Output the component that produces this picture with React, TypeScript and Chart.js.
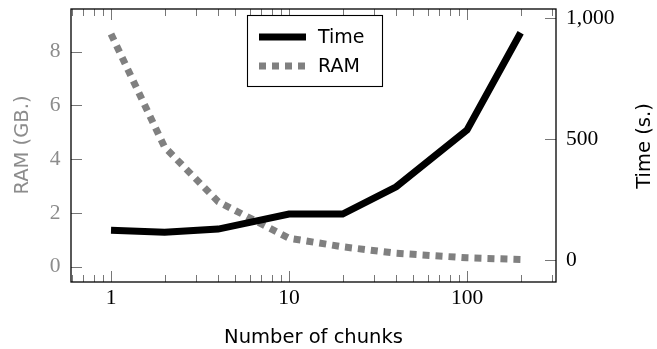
import React, { useEffect, useRef } from 'react';
import { Chart, registerables } from 'chart.js';

Chart.register(...registerables);

const chunks = [1, 2, 4, 10, 20, 40, 100, 200];
const timeSeconds = [123, 115, 128, 190, 190, 303, 538, 940];
const ramGB = [8.66, 4.45, 2.42, 1.06, 0.74, 0.5, 0.33, 0.27];
const xTickValues = [1, 10, 100];
const ramTickValues = [0, 2, 4, 6, 8];
const timeTickValues = [0, 500, 1000];
const seriesLabels = ['Time', 'RAM'];
const axisTitles = { x: 'Number of chunks', ram: 'RAM (GB.)', time: 'Time (s.)' };

const GRAY = '#808080';
const LABEL_GRAY = '#8c8c8c';
const SERIF = '"Liberation Serif", "DejaVu Serif", serif';
const SANS = '"DejaVu Sans", sans-serif';

const zeroPad = (s: any) => {
  s.paddingTop = 0;
  s.paddingBottom = 0;
  s.paddingLeft = 0;
  s.paddingRight = 0;
};

const decorPlugin = {
  id: 'decor',
  afterDraw(chart: any) {
    const { ctx, chartArea } = chart;
    const { left, right, top, bottom } = chartArea;
    const xs = chart.scales.x;
    const ys = chart.scales.y;
    const y1 = chart.scales.y1;
    ctx.save();
    // ticks
    ctx.strokeStyle = '#777';
    ctx.lineWidth = 1;
    const vline = (px: number, len: number) => {
      const x = Math.round(px) + 0.5;
      ctx.beginPath();
      ctx.moveTo(x, bottom);
      ctx.lineTo(x, bottom - len);
      ctx.moveTo(x, top);
      ctx.lineTo(x, top + len);
      ctx.stroke();
    };
    const xmin = xs.min;
    const xmax = xs.max;
    for (const dec of [0.1, 1, 10, 100]) {
      for (let m = 1; m <= 9; m++) {
        const v = m * dec;
        if (v <= xmin || v >= xmax) continue;
        const major = m === 1;
        vline(xs.getPixelForValue(v), major ? 11 : 7);
      }
    }
    for (const v of ramTickValues) {
      const y = Math.round(ys.getPixelForValue(v)) + 0.5;
      ctx.beginPath();
      ctx.moveTo(left, y);
      ctx.lineTo(left + 11, y);
      ctx.stroke();
    }
    for (const v of timeTickValues) {
      const y = Math.round(y1.getPixelForValue(v)) + 0.5;
      ctx.beginPath();
      ctx.moveTo(right, y);
      ctx.lineTo(right - 11, y);
      ctx.stroke();
    }
    // frame
    ctx.strokeStyle = '#000';
    ctx.lineWidth = 1.3;
    ctx.strokeRect(left, top, right - left, bottom - top);

    // titles
    ctx.font = `19.5px ${SANS}`;
    ctx.textAlign = 'center';
    ctx.textBaseline = 'middle';
    ctx.fillStyle = '#000';
    ctx.fillText(axisTitles.x, (left + right) / 2, 338);
    ctx.save();
    ctx.translate(22.5, 145);
    ctx.rotate(-Math.PI / 2);
    ctx.fillStyle = LABEL_GRAY;
    ctx.fillText(axisTitles.ram, 0, 0);
    ctx.restore();
    ctx.save();
    ctx.translate(645, 146);
    ctx.rotate(-Math.PI / 2);
    ctx.fillStyle = '#000';
    ctx.fillText(axisTitles.time, 0, 0);
    ctx.restore();

    // legend
    const bx = 247, by = 15, bw = 135, bh = 71;
    ctx.fillStyle = '#fff';
    ctx.fillRect(bx, by, bw, bh);
    ctx.strokeStyle = '#000';
    ctx.lineWidth = 1.1;
    ctx.strokeRect(bx + 0.5, by + 0.5, bw, bh);
    ctx.lineCap = 'butt';
    ctx.lineWidth = 7;
    ctx.strokeStyle = '#000';
    ctx.beginPath();
    ctx.moveTo(259, 37);
    ctx.lineTo(306, 37);
    ctx.stroke();
    ctx.strokeStyle = GRAY;
    ctx.setLineDash([7, 6]);
    ctx.beginPath();
    ctx.moveTo(259, 66);
    ctx.lineTo(306, 66);
    ctx.stroke();
    ctx.setLineDash([]);
    ctx.font = `19px ${SANS}`;
    ctx.textAlign = 'left';
    ctx.fillStyle = '#000';
    ctx.fillText(seriesLabels[0], 318, 38);
    ctx.fillText(seriesLabels[1], 318, 67);
    ctx.restore();
  },
};

export default function App() {
  const ref = useRef<HTMLCanvasElement>(null);
  useEffect(() => {
    document.body.style.margin = '0';
    const chart = new Chart(ref.current!, {
      type: 'line',
      data: {
        datasets: [
          {
            label: seriesLabels[0],
            data: chunks.map((x, i) => ({ x, y: timeSeconds[i] })),
            yAxisID: 'y1',
            borderColor: '#000',
            borderWidth: 7,
            pointRadius: 0,
            tension: 0,
            borderCapStyle: 'butt',
            borderJoinStyle: 'miter',
          },
          {
            label: seriesLabels[1],
            data: chunks.map((x, i) => ({ x, y: ramGB[i] })),
            yAxisID: 'y',
            borderColor: GRAY,
            borderWidth: 7,
            borderDash: [7, 6],
            pointRadius: 0,
            tension: 0,
            borderCapStyle: 'butt',
          },
        ],
      },
      options: {
        animation: false,
        responsive: false,
        layout: { padding: { top: 9, left: 0, right: 0, bottom: 0 } },
        plugins: { legend: { display: false }, tooltip: { enabled: false } },
        scales: {
          x: {
            type: 'logarithmic',
            position: 'bottom',
            min: 0.596,
            max: 316,
            grid: { display: false, drawTicks: false },
            border: { display: false },
            afterBuildTicks: (s: any) => {
              s.ticks = xTickValues.map((v) => ({ value: v }));
            },
            afterFit: (s: any) => {
              s.height = 67;
              zeroPad(s);
            },
            ticks: {
              autoSkip: false,
              maxRotation: 0,
              padding: 3,
              color: '#000',
              font: { family: SERIF, size: 21.5 },
              callback: (v: any) => String(v),
            },
          },
          y: {
            type: 'linear',
            position: 'left',
            min: -0.57,
            max: 9.59,
            grid: { display: false, drawTicks: false },
            border: { display: false },
            afterBuildTicks: (s: any) => {
              s.ticks = ramTickValues.map((v) => ({ value: v }));
            },
            afterFit: (s: any) => {
              s.width = 71;
              zeroPad(s);
            },
            ticks: {
              padding: 10.5,
              color: LABEL_GRAY,
              font: { family: SERIF, size: 21.5 },
              callback: (v: any) => String(v),
            },
          },
          y1: {
            type: 'linear',
            position: 'right',
            min: -91,
            max: 1038.5,
            grid: { display: false, drawTicks: false },
            border: { display: false },
            afterBuildTicks: (s: any) => {
              s.ticks = timeTickValues.map((v) => ({ value: v }));
            },
            afterFit: (s: any) => {
              s.width = 101;
              zeroPad(s);
            },
            ticks: {
              padding: 10,
              color: '#000',
              font: { family: SERIF, size: 21.5 },
              callback: (v: any) => Number(v).toLocaleString('en-US'),
            },
          },
        },
      } as any,
      plugins: [decorPlugin],
    });
    return () => chart.destroy();
  }, []);
  return (
    <div style={{ position: 'absolute', left: 0, top: 0, width: 657, height: 349 }}>
      <canvas ref={ref} width={657} height={349} style={{ width: 657, height: 349 }} />
    </div>
  );
}
